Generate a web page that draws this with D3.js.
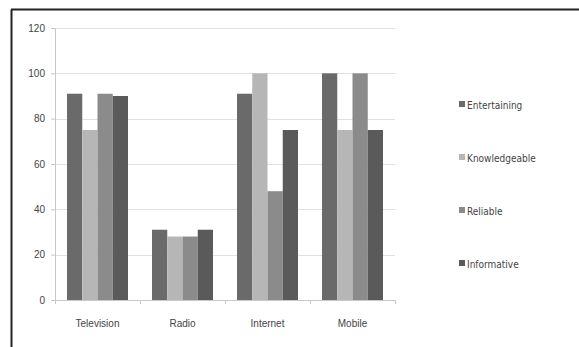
<!DOCTYPE html>
<html>
<head>
<meta charset="utf-8">
<script src="https://d3js.org/d3.v7.min.js"></script>
<style>
body { margin: 0; background: #fff; }
svg { display: block; font-family: "Liberation Sans Narrow", "DejaVu Sans Condensed", "Liberation Sans", sans-serif; }
</style>
</head>
<body>
<svg width="579" height="347"></svg>
<script>
var categories = ["Television", "Radio", "Internet", "Mobile"];
var seriesNames = ["Entertaining", "Knowledgeable", "Reliable", "Informative"];
var entertaining = [91, 31, 91, 100];
var knowledgeable = [75, 28, 100, 75];
var reliable = [91, 28, 48, 100];
var informative = [90, 31, 75, 75];
var yTicks = [0, 20, 40, 60, 80, 100, 120];
var colors = ["#6a6a6a", "#b6b6b6", "#8b8b8b", "#5a5a5a"];

var seriesValues = [entertaining, knowledgeable, reliable, informative];

var svg = d3.select("svg");

// outer frame (left and top edges only visible)
svg.append("line").attr("x1", 11.5).attr("x2", 11.5).attr("y1", 9.5).attr("y2", 347)
  .attr("stroke", "#222").attr("stroke-width", 2);
svg.append("line").attr("x1", 11).attr("x2", 579).attr("y1", 9.5).attr("y2", 9.5)
  .attr("stroke", "#222").attr("stroke-width", 2);

var plotLeft = 55, plotRight = 395, plotTop = 28, plotBottom = 300;

var x = d3.scaleBand().domain(categories).range([plotLeft, plotRight]).paddingInner(0).paddingOuter(0);
var xs = d3.scaleBand().domain(seriesNames).range([12, x.bandwidth() - 12]);
var y = d3.scaleLinear().domain([0, 120]).range([plotBottom, plotTop]);

// gridlines
svg.append("g").selectAll("line").data(yTicks.slice(1)).enter().append("line")
  .attr("x1", plotLeft).attr("x2", plotRight)
  .attr("y1", function(d) { return Math.round(y(d)) + 0.5; })
  .attr("y2", function(d) { return Math.round(y(d)) + 0.5; })
  .attr("stroke", "#e0e0e0");

// bars
var groups = svg.append("g").selectAll("g").data(categories).enter().append("g")
  .attr("transform", function(d) { return "translate(" + x(d) + ",0)"; });

groups.selectAll("rect")
  .data(function(d, i) { return seriesNames.map(function(s, j) { return { s: s, v: seriesValues[j][i], j: j }; }); })
  .enter().append("rect")
  .attr("x", function(d) { return xs(d.s); })
  .attr("width", xs.bandwidth())
  .attr("y", function(d) { return y(d.v); })
  .attr("height", function(d) { return y(0) - y(d.v); })
  .attr("fill", function(d) { return colors[d.j]; });

// y axis
var yAxis = svg.append("g").attr("transform", "translate(" + plotLeft + ",0)")
  .call(d3.axisLeft(y).tickValues(yTicks).tickSize(4).tickPadding(6));
yAxis.select(".domain").attr("stroke", "#c8c8c8");
yAxis.selectAll(".tick line").attr("stroke", "#c8c8c8");
yAxis.selectAll("text").attr("fill", "#444").style("font-size", "10px");

// x axis
var xAxis = svg.append("g").attr("transform", "translate(0," + plotBottom + ")")
  .call(d3.axisBottom(x).tickSize(0).tickPadding(20));
xAxis.select(".domain").attr("stroke", "#c8c8c8");
xAxis.selectAll("text").attr("fill", "#444").style("font-size", "10px");
svg.append("g").selectAll("line").data(categories.concat(["end"])).enter().append("line")
  .attr("x1", function(d, i) { return plotLeft + i * x.bandwidth() + 0.5; })
  .attr("x2", function(d, i) { return plotLeft + i * x.bandwidth() + 0.5; })
  .attr("y1", plotBottom).attr("y2", plotBottom + 4)
  .attr("stroke", "#c8c8c8");

// legend
var legend = svg.append("g").selectAll("g").data(seriesNames).enter().append("g")
  .attr("transform", function(d, i) { return "translate(459," + (105 + i * 53) + ")"; });
legend.append("rect").attr("x", 0).attr("y", -4).attr("width", 6).attr("height", 6)
  .attr("fill", function(d, i) { return colors[i]; });
legend.append("text").attr("x", 8).attr("y", 0).attr("dy", "0.35em")
  .attr("fill", "#444").style("font-size", "10px")
  .text(function(d) { return d; });
</script>
</body>
</html>
